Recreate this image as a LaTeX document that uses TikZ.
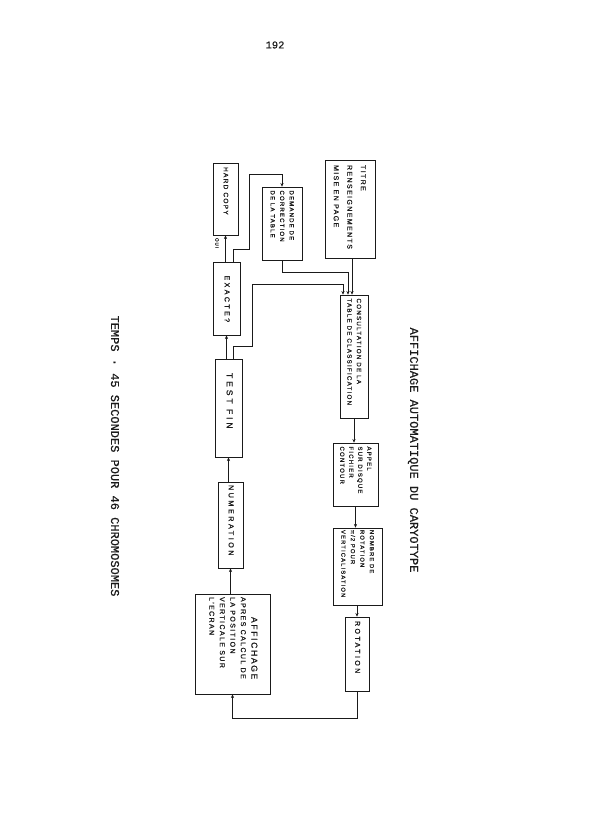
\documentclass[tikz,border=0pt]{standalone}
\usepackage{fontspec}
\usepackage{graphicx}
\usepackage{xcolor}
\usepackage{tikz}
\usetikzlibrary{calc,arrows.meta,positioning}
\setmonofont{Liberation Mono}[FakeBold=0.5]
\newfontfamily\handfont[LetterSpace=20,FakeBold=1]{Liberation Sans}
\newfontfamily\handwide[LetterSpace=35,FakeBold=1]{Liberation Sans}
\definecolor{inkc}{HTML}{1A1A1A}
\tikzset{
  ar/.style={-{Stealth[length=1.3mm,width=1.1mm]},semithick,inkc},
  bx/.style 2 args={draw=inkc,semithick,inner sep=0pt,minimum width=#1,minimum height=#2,text=inkc},
  ttl/.style={rotate=-90,inner sep=0pt,text=inkc,font=\ttfamily\fontsize{12}{14}\selectfont}
}
\newcommand{\vtxt}[2]{\rotatebox{-90}{\makebox[#1][l]{\begin{tabular}{@{}l@{}}#2\end{tabular}}}}

\begin{document}
\begin{tikzpicture}[x=1pt,y=-1pt]
\useasboundingbox (0,0) rectangle (595,836);
\node[inner sep=0pt,text=inkc,font=\ttfamily\fontsize{10.5}{12}\selectfont] (pgnum) at (275,45) {192};
\node[ttl] (title) at (413,450) {AFFICHAGE AUTOMATIQUE DU CARYOTYPE};
\node[ttl] (temps) at (115,456) {TEMPS · 45 SECONDES POUR 46 CHROMOSOMES};
% right column
\node[bx={50pt}{98pt}] (titre) at (350,209) {\handfont\fontsize{7}{13.5}\selectfont\vtxt{88pt}{TITRE\\RENSEIGNEMENTS\\MISE EN PAGE}};
\node[bx={28pt}{123pt}] (consult) at (354,356.5) {\handfont\fontsize{6.2}{9.5}\selectfont\vtxt{116pt}{CONSULTATION DE LA\\TABLE DE CLASSIFICATION}};
\node[bx={45pt}{63pt}] (appel) at (355.5,474.5) {\handfont\fontsize{6}{9}\selectfont\vtxt{56pt}{APPEL\\SUR DISQUE\\FICHIER\\CONTOUR}};
\node[bx={49pt}{77pt}] (nombre) at (357.5,566.5) {\handfont\fontsize{5.8}{9.5}\selectfont\vtxt{73pt}{NOMBRE DE\\ROTATION\\π/2 POUR\\VERTICALISATION}};
\node[bx={24pt}{74pt}] (rotation) at (357,654) {\handwide\fontsize{7}{9}\selectfont\vtxt{66pt}{ROTATION}};
% left column
\node[bx={25pt}{72pt}] (hard) at (225.5,199) {\handfont\fontsize{6.5}{9}\selectfont\vtxt{64pt}{HARD COPY}};
\node[bx={40pt}{73pt}] (demande) at (282,223.5) {\handfont\fontsize{6}{9.5}\selectfont\vtxt{66pt}{DEMANDE DE\\CORRECTION\\DE LA TABLE}};
\node[bx={27pt}{73pt}] (exacte) at (226.5,298.5) {\handwide\fontsize{7}{9}\selectfont\vtxt{58pt}{\hspace*{6pt}EXACTE?}};
\node[bx={27pt}{98pt}] (testfin) at (228.5,408) {\handwide\fontsize{8.5}{9}\selectfont\vtxt{90pt}{\hspace*{10pt}TEST FIN}};
\node[bx={25pt}{86pt}] (numer) at (230.5,525) {\handwide\fontsize{7.2}{9}\selectfont\vtxt{80pt}{NUMERATION}};
\node[bx={75pt}{100pt}] (affich) at (232.5,644) {\handfont\fontsize{7}{10.5}\selectfont\vtxt{94pt}{\hspace*{20pt}{\fontsize{8.5}{11}\selectfont AFFICHAGE}\\APRES CALCUL DE\\LA POSITION\\VERTICALE SUR\\L'ECRAN}};
\node[rotate=-90,inner sep=0pt,text=inkc,font=\handfont\fontsize{4.5}{5}\selectfont] (oui) at (217,243) {OUI};
% connectors
\draw[ar] ($(titre.south)+(2,0)$) -- ($(titre.south |- consult.north)+(2,0)$);
\draw[ar] (demande.south) -- ++(0,12) -| ($(consult.north)+(-6,0)$);
\draw[ar] ($(testfin.north)+(4.5,0)$) -- ++(0,-12) -- ++(19,0) -- ++(0,-62) -| ($(consult.north)+(-11,0)$);
\draw[ar] (exacte.south |- testfin.north) -- (exacte.south);
\draw[ar] (hard.south |- exacte.north) -- (hard.south);
\draw[ar] ($(exacte.north)+(6.5,0)$) -- ++(0,-12) -- ++(16,0) -- ++(0,-75) -| (demande.north);
\draw[ar] (consult.south) -- (consult.south |- appel.north);
\draw[ar] (appel.south) -- (appel.south |- nombre.north);
\draw[ar] (rotation.north |- nombre.south) -- (rotation.north);
\draw[ar] (rotation.south) -- ++(0,27) -| (affich.south);
\draw[ar] (numer.south |- affich.north) -- (numer.south);
\draw[ar] (testfin.south |- numer.north) -- (testfin.south);
\end{tikzpicture}
\end{document}
